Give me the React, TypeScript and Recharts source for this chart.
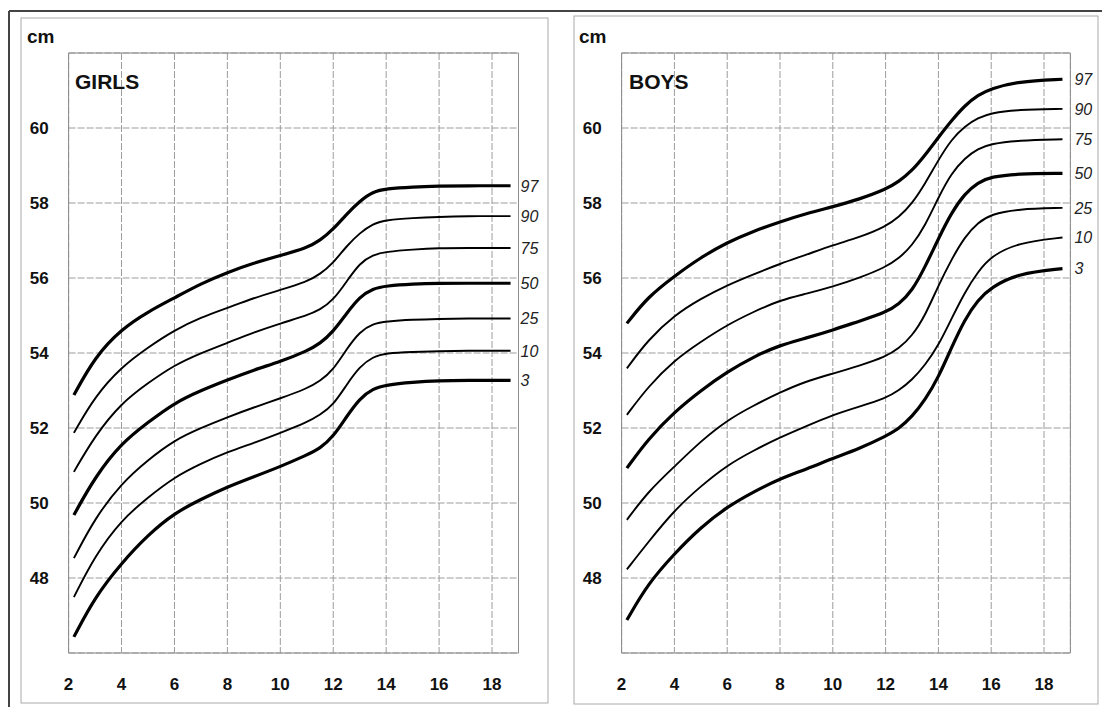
import React from 'react';
import { LineChart, Line, XAxis, YAxis, CartesianGrid, ReferenceArea } from 'recharts';

// ages in months, head circumference in cm
const girlsAges = [2.2, 3, 4, 5, 6, 7, 8, 9, 10, 11, 11.5, 12, 12.5, 13, 13.5, 14, 15, 16, 17, 18.7];
const girls97 = [52.88, 53.9, 54.64, 55.1, 55.47, 55.85, 56.15, 56.4, 56.6, 56.8, 57.0, 57.3, 57.7, 58.05, 58.3, 58.38, 58.43, 58.45, 58.46, 58.46];
const girls90 = [51.87, 52.85, 53.63, 54.15, 54.61, 54.95, 55.2, 55.47, 55.68, 55.9, 56.1, 56.4, 56.85, 57.2, 57.45, 57.55, 57.6, 57.63, 57.65, 57.65];
const girls75 = [50.83, 51.8, 52.67, 53.2, 53.68, 54.0, 54.27, 54.55, 54.79, 55.0, 55.15, 55.41, 55.9, 56.4, 56.62, 56.7, 56.76, 56.8, 56.8, 56.8];
const girls50 = [49.68, 50.7, 51.6, 52.15, 52.67, 53.0, 53.28, 53.55, 53.77, 54.05, 54.25, 54.57, 55.05, 55.5, 55.72, 55.79, 55.84, 55.86, 55.86, 55.86];
const girls25 = [48.53, 49.6, 50.53, 51.15, 51.68, 52.0, 52.29, 52.55, 52.79, 53.05, 53.25, 53.55, 54.1, 54.57, 54.78, 54.84, 54.89, 54.91, 54.92, 54.92];
const girls10 = [47.49, 48.6, 49.55, 50.15, 50.69, 51.05, 51.36, 51.6, 51.87, 52.15, 52.35, 52.61, 53.15, 53.64, 53.9, 54.0, 54.03, 54.05, 54.06, 54.06];
const girls3 = [46.43, 47.5, 48.4, 49.15, 49.73, 50.1, 50.43, 50.7, 50.97, 51.28, 51.45, 51.77, 52.3, 52.79, 53.05, 53.15, 53.22, 53.26, 53.27, 53.27];

const boysAges = [2.2, 3, 4, 5, 6, 7, 8, 9, 10, 11, 12, 12.5, 13, 13.5, 14, 14.5, 15, 15.5, 16, 17, 18.7];
const boys97 = [54.79, 55.5, 56.05, 56.55, 56.95, 57.25, 57.5, 57.72, 57.9, 58.1, 58.36, 58.57, 58.86, 59.28, 59.75, 60.2, 60.6, 60.88, 61.05, 61.24, 61.3];
const boys90 = [53.59, 54.35, 55.01, 55.45, 55.81, 56.1, 56.38, 56.62, 56.88, 57.08, 57.37, 57.62, 57.98, 58.52, 59.15, 59.7, 60.05, 60.27, 60.4, 60.49, 60.51];
const boys75 = [52.35, 53.1, 53.81, 54.3, 54.75, 55.1, 55.41, 55.58, 55.77, 56.0, 56.29, 56.52, 56.86, 57.4, 58.15, 58.8, 59.2, 59.45, 59.58, 59.67, 59.7];
const boys50 = [50.93, 51.7, 52.43, 53.0, 53.5, 53.9, 54.21, 54.4, 54.61, 54.85, 55.08, 55.3, 55.65, 56.3, 57.05, 57.75, 58.25, 58.55, 58.7, 58.78, 58.79];
const boys25 = [49.55, 50.3, 50.97, 51.65, 52.21, 52.6, 52.95, 53.25, 53.45, 53.66, 53.9, 54.12, 54.45, 55.0, 55.8, 56.5, 57.1, 57.48, 57.7, 57.84, 57.87];
const boys10 = [48.23, 48.95, 49.81, 50.45, 51.01, 51.4, 51.75, 52.05, 52.35, 52.57, 52.79, 53.0, 53.28, 53.68, 54.2, 54.92, 55.62, 56.17, 56.58, 56.94, 57.08];
const boys3 = [46.88, 47.85, 48.65, 49.35, 49.9, 50.3, 50.65, 50.9, 51.19, 51.45, 51.78, 51.98, 52.3, 52.75, 53.35, 54.15, 54.9, 55.42, 55.75, 56.12, 56.25];

const percentiles = ['97', '90', '75', '50', '25', '10', '3'];
const xTicks = [2, 4, 6, 8, 10, 12, 14, 16, 18];
const yTicks = [48, 50, 52, 54, 56, 58, 60];

const FONT = '"Liberation Sans", Arial, sans-serif';
const thick = ['97', '50', '3'];

const buildRows = (ages: number[], series: number[][]) =>
  ages.map((age, i) => {
    const row: Record<string, number> = { age };
    percentiles.forEach((p, k) => {
      row['p' + p] = series[k][i];
    });
    return row;
  });

const girlsRows = buildRows(girlsAges, [girls97, girls90, girls75, girls50, girls25, girls10, girls3]);
const boysRows = buildRows(boysAges, [boys97, boys90, boys75, boys50, boys25, boys10, boys3]);

const tickStyle = { fill: '#111', fontSize: 17, fontWeight: 700, fontFamily: FONT };

const Panel = ({ rows, left, plotLeft, plotRight, labelGap }: any) => {
  const width = 560;
  const last = rows.length - 1;
  return (
    <div style={{ position: 'absolute', left, top: 0 }}>
      <LineChart
        width={width}
        height={707}
        data={rows}
        margin={{ top: 53, right: width - plotRight, bottom: 24, left: plotLeft - 60 }}
      >
        <CartesianGrid stroke="#9c9c9c" strokeWidth={1} strokeDasharray="7 2" />
        <ReferenceArea x1={2} x2={19} y1={46} y2={62} fill="none" stroke="#8c8c8c" strokeWidth={1} />
        <XAxis
          dataKey="age"
          type="number"
          domain={[2, 19]}
          ticks={xTicks}
          axisLine={false}
          tickLine={false}
          tickSize={0}
          tickMargin={25}
          height={30}
          tick={tickStyle}
          interval={0}
        />
        <YAxis
          type="number"
          domain={[46, 62]}
          ticks={yTicks}
          axisLine={false}
          tickLine={false}
          tickSize={0}
          tickMargin={20}
          width={60}
          tick={tickStyle}
          interval={0}
        />
        {percentiles.map((p) => (
          <Line
            key={p}
            dataKey={'p' + p}
            type="basis"
            stroke="#000"
            strokeWidth={thick.includes(p) ? 3.2 : 1.9}
            dot={false}
            activeDot={false}
            isAnimationActive={false}
            label={(props: any) =>
              props.index === last ? (
                <text
                  key={'l' + p}
                  x={props.x + labelGap}
                  y={props.y}
                  dy="0.36em"
                  fontSize={16}
                  fontStyle="italic"
                  fontFamily={FONT}
                  fill="#222"
                >
                  {p}
                </text>
              ) : (
                <g key={'e' + props.index} />
              )
            }
          />
        ))}
      </LineChart>
    </div>
  );
};

const App = () => {
  return (
    <div style={{ position: 'absolute', left: 0, top: 0, width: 1102, height: 707, background: '#fff', overflow: 'hidden' }}>
      <svg width={1102} height={707} style={{ position: 'absolute', left: 0, top: 0 }}>
        <line x1={9} y1={11} x2={1102} y2={11} stroke="#444" strokeWidth={2} />
        <line x1={9} y1={11} x2={9} y2={707} stroke="#444" strokeWidth={2} />
        <rect x={21} y={18} width={527} height={685} fill="none" stroke="#aaa" strokeWidth={1} />
        <rect x={574} y={16} width={524} height={688} fill="none" stroke="#aaa" strokeWidth={1} />
        <text x={27} y={43} fontSize={19} fontWeight={700} fontFamily={FONT} fill="#111">cm</text>
        <text x={75} y={89} fontSize={21} fontWeight={700} fontFamily={FONT} fill="#111">GIRLS</text>
        <text x={579} y={43} fontSize={19} fontWeight={700} fontFamily={FONT} fill="#111">cm</text>
        <text x={629} y={89} fontSize={21} fontWeight={700} fontFamily={FONT} fill="#111">BOYS</text>
      </svg>
      <Panel rows={girlsRows} left={0} plotLeft={68.6} plotRight={518.5} labelGap={10} />
      <Panel rows={boysRows} left={553.1} plotLeft={68.6} plotRight={517.4} labelGap={12} />
    </div>
  );
};

export default App;
